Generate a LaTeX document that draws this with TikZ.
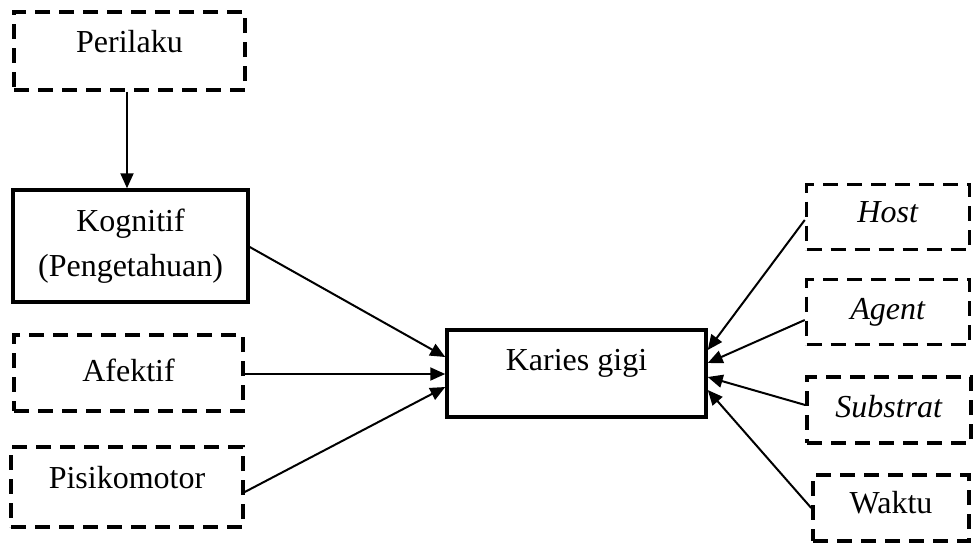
\documentclass[tikz,border=0pt]{standalone}
\usepackage{fontspec}
\setmainfont{Liberation Serif}
\usetikzlibrary{arrows.meta,calc}
\begin{document}
\begin{tikzpicture}[x=1pt,y=-1pt,
  box/.style={draw=black,line width=3.5pt,inner sep=0pt,align=center,
    font=\fontsize{32}{45}\selectfont},
  dbox/.style={box,dash pattern=on 15pt off 9pt,text height=22pt},
  arr/.style={line width=2pt,-{Triangle[length=15pt,width=13pt]}}]
\useasboundingbox (0,0) rectangle (974,542);
\node[dbox,minimum width=231pt,minimum height=78pt,text depth=20pt] (perilaku) at (129.5,51) {Perilaku};
\node[box,minimum width=235pt,minimum height=112pt] (kognitif) at (130.5,246) {Kognitif\\(Pengetahuan)};
\node[dbox,minimum width=229pt,minimum height=76pt,text depth=6pt] (afektif) at (128.5,373) {Afektif};
\node[dbox,minimum width=232pt,minimum height=80pt,text depth=20pt] (pisiko) at (127,487) {Pisikomotor};
\node[box,minimum width=259pt,minimum height=87pt,text height=22pt,text depth=28pt] (karies) at (576.5,373.5) {Karies gigi};
\node[dbox,minimum width=163pt,minimum height=65pt,text depth=11pt] (host) at (888,217) {\textit{Host}};
\node[dbox,minimum width=163pt,minimum height=65pt,text depth=7pt] (agent) at (888,312) {\textit{Agent}};
\node[dbox,minimum width=164pt,minimum height=66pt,text depth=8pt] (substrat) at (889,410) {\textit{Substrat}};
\node[dbox,minimum width=156pt,minimum height=66pt,text depth=12pt] (waktu) at (891,508) {Waktu};
\coordinate (pstart) at ($(perilaku.south)+(-2.5,0)$);
\coordinate (pend) at (pstart |- kognitif.north);
\draw[arr] (pstart) -- (pend);
\draw[arr] ($(kognitif.east)+(0,1)$) -- ($(karies.west)+(0,-16.5)$);
\draw[arr] ($(afektif.east)+(0,1)$) -- ($(karies.west)+(0,0.5)$);
\draw[arr] ($(pisiko.east)+(0,5)$) -- ($(karies.west)+(0,13.5)$);
\draw[arr] ($(host.west)+(0,3)$) -- ($(karies.east)+(0,-23.5)$);
\draw[arr] ($(agent.west)+(0,8)$) -- ($(karies.east)+(0,-10.5)$);
\draw[arr] ($(substrat.west)+(0,-5)$) -- ($(karies.east)+(0,3.5)$);
\draw[arr] (waktu.west) -- ($(karies.east)+(0,16.5)$);
\end{tikzpicture}
\end{document}
